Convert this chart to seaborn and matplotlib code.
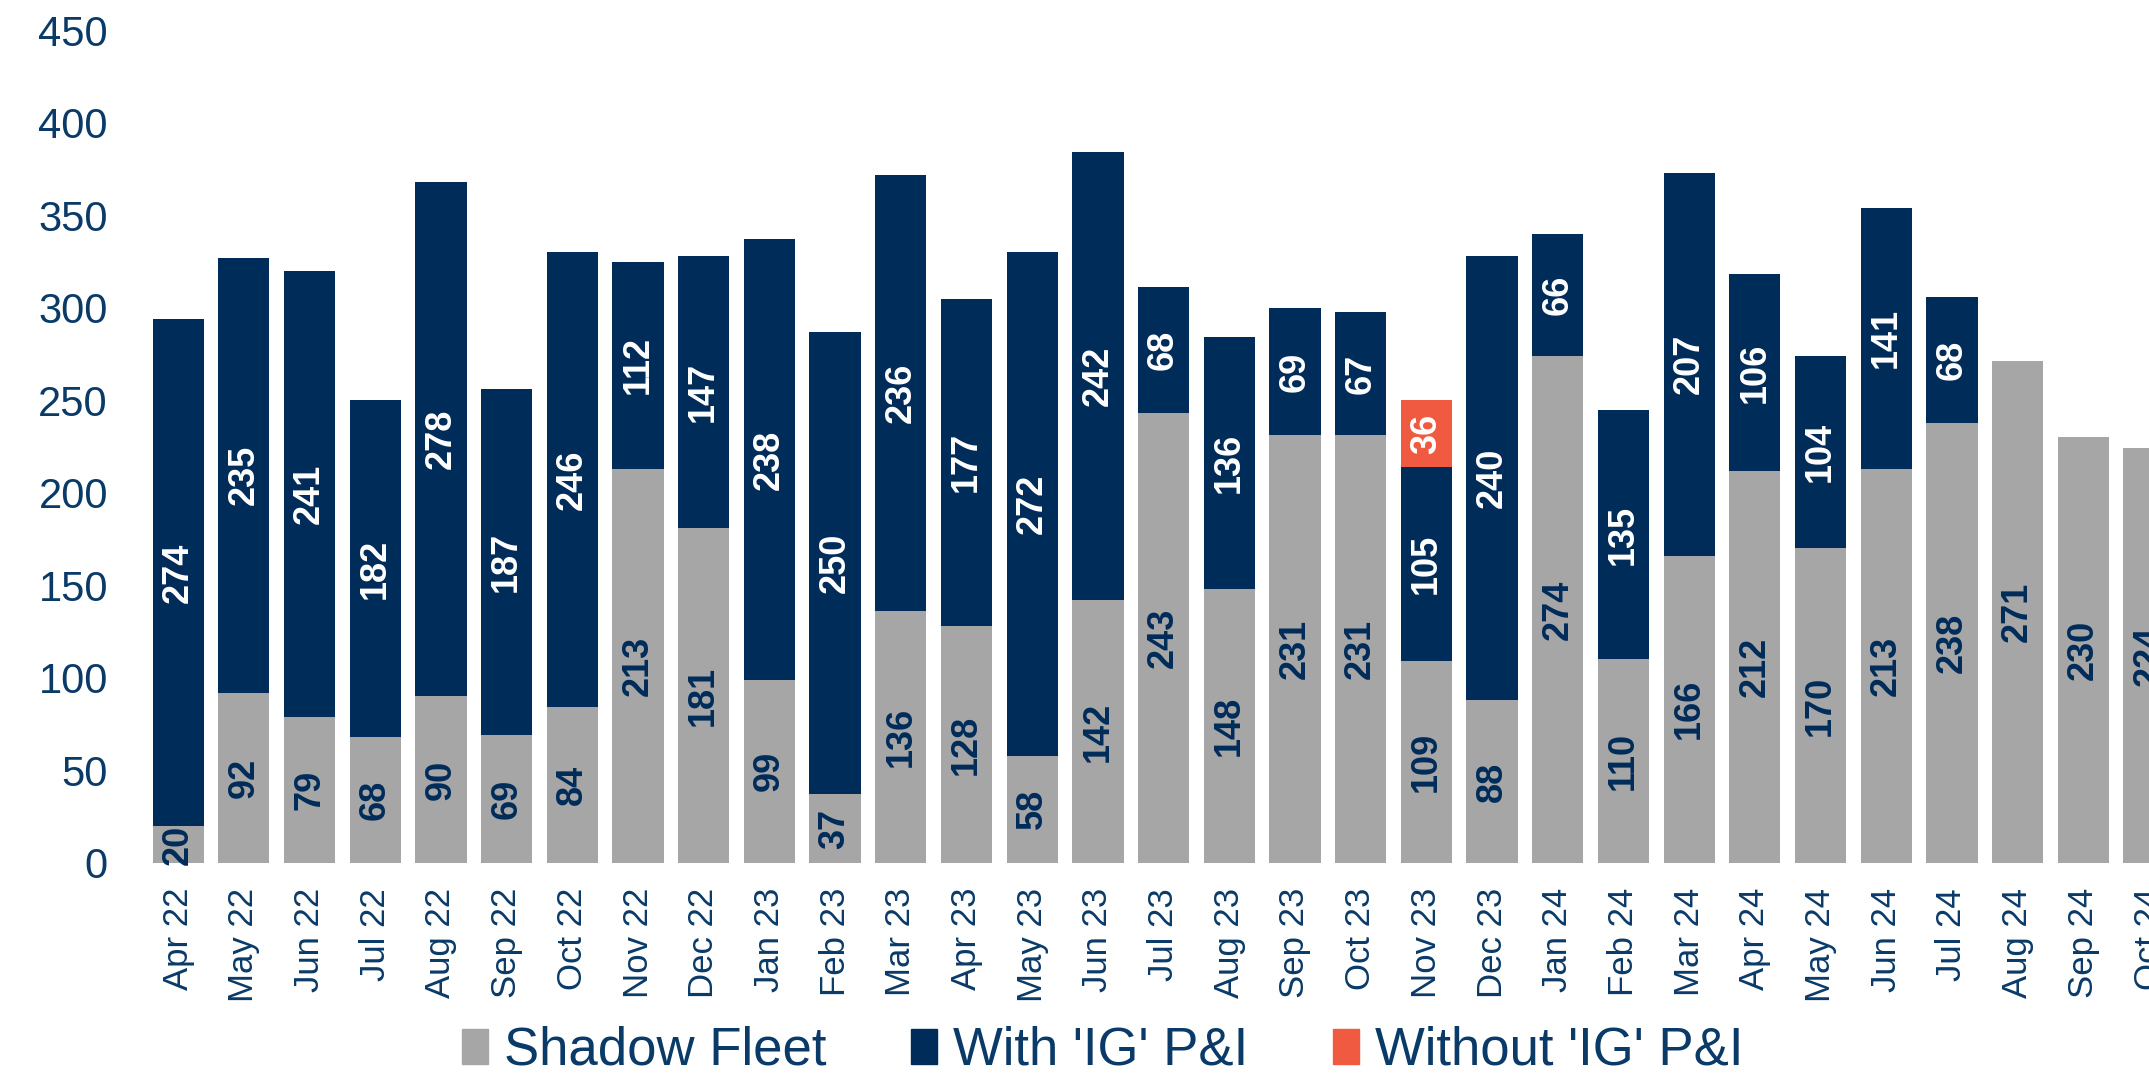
import matplotlib.pyplot as plt
import pandas as pd
import seaborn as sns
from matplotlib.patches import Patch

# Dados
months = [
    "Apr 22", "May 22", "Jun 22", "Jul 22", "Aug 22", "Sep 22", "Oct 22",
    "Nov 22", "Dec 22", "Jan 23", "Feb 23", "Mar 23", "Apr 23", "May 23",
    "Jun 23", "Jul 23", "Aug 23", "Sep 23", "Oct 23", "Nov 23", "Dec 23",
    "Jan 24", "Feb 24", "Mar 24", "Apr 24", "May 24", "Jun 24", "Jul 24",
    "Aug 24", "Sep 24", "Oct 24",
]
shadow_fleet = [20, 92, 79, 68, 90, 69, 84, 213, 181, 99, 37, 136, 128, 58,
                142, 243, 148, 231, 231, 109, 88, 274, 110, 166, 212, 170,
                213, 238, 271, 230, 224]
with_ig = [274, 235, 241, 182, 278, 187, 246, 112, 147, 238, 250, 236, 177,
           272, 242, 68, 136, 69, 67, 105, 240, 66, 135, 207, 106, 104, 141,
           68, 0, 0, 0]
without_ig = [0] * 19 + [36] + [0] * 11

GRAY = "#A6A6A6"
NAVY = "#002C5A"
RED = "#F05A40"
TXT = "#0A3A68"

df = pd.DataFrame({
    "month": months,
    "shadow": shadow_fleet,
    "with": with_ig,
    "without": without_ig,
})
df["s_w"] = df["shadow"] + df["with"]
df["total"] = df["s_w"] + df["without"]

sns.set_theme(style="white")
plt.rcParams["font.family"] = ["Liberation Sans", "DejaVu Sans"]

fig = plt.figure(figsize=(21.49, 10.80), dpi=100)
ax = fig.add_axes([0.0554, 0.201, 0.9446, 0.771])

# Barras empilhadas (sobrepostas do total para baixo)
for col, cor in [("total", RED), ("s_w", NAVY), ("shadow", GRAY)]:
    sns.barplot(data=df, x="month", y=col, color=cor, width=0.78,
                saturation=1, linewidth=0, ax=ax)

# Rótulos dos segmentos
rot = dict(rotation=90, ha="center", va="center", fontsize=26,
           fontweight="bold")
for i in range(len(months)):
    s, w, o = shadow_fleet[i], with_ig[i], without_ig[i]
    ax.text(i, s / 2, str(s), color=NAVY, **rot)
    if w > 0:
        ax.text(i, s + w / 2, str(w), color="white", **rot)
    if o > 0:
        ax.text(i, s + w + o / 2, str(o), color="white", **rot)

ax.set_xlim(-0.9, 30)
ax.set_ylim(0, 450)
ax.set_yticks(range(0, 451, 50))
ax.set_xlabel("")
ax.set_ylabel("")
sns.despine(ax=ax, left=True, bottom=True)
ax.tick_params(axis="x", rotation=90, labelsize=25, colors=TXT, pad=18,
               length=0)
ax.tick_params(axis="y", labelsize=30, colors=TXT, pad=8, length=0)

# Legenda
handles = [Patch(color=GRAY), Patch(color=NAVY), Patch(color=RED)]
labels = ["Shadow Fleet", "With 'IG' P&I", "Without 'IG' P&I"]
fig.legend(handles, labels, loc="center", bbox_to_anchor=(0.513, 0.027),
           ncol=3, frameon=False, labelcolor=TXT, fontsize=38,
           handlelength=0.5, handleheight=0.65, handletextpad=0.3,
           columnspacing=1.6)

fig.savefig("out.png", dpi=100)
